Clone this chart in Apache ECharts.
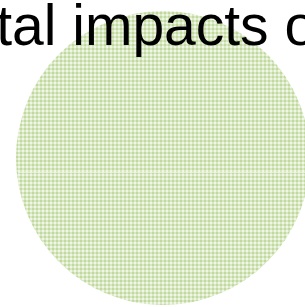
<!DOCTYPE html>
<html>
<head>
<meta charset="utf-8">
<script src="https://cdn.jsdelivr.net/npm/echarts@6/dist/echarts.min.js"></script>
<style>
  html, body { margin: 0; padding: 0; background: #fff; }
  #chart { width: 305px; height: 307px; }
</style>
</head>
<body>
<div id="chart"></div>
<script>
// 数据
const titleText = 'Total impacts of';
const categories = ['Total'];
const values = [100];

// 格子纹理填充 (gingham)
function makePattern() {
  const c = document.createElement('canvas');
  c.width = 4; c.height = 4;
  const ctx = c.getContext('2d');
  for (let y = 0; y < 4; y++) {
    for (let x = 0; x < 4; x++) {
      const lx = x >= 2, ly = y >= 2;
      ctx.fillStyle = (lx && ly) ? '#f0f6e6' : (lx || ly) ? '#d8e8c2' : '#c2d99e';
      ctx.fillRect(x, y, 1, 1);
    }
  }
  return c;
}

const chart = echarts.init(document.getElementById('chart'));
chart.setOption({
  backgroundColor: '#fff',
  animation: false,
  title: {
    text: titleText,
    left: -69,
    top: -4,
    padding: 5,
    textStyle: {
      fontFamily: 'Liberation Sans',
      fontSize: 57,
      fontWeight: 'normal',
      color: '#000'
    }
  },
  // 纹理接缝
  graphic: [{
    type: 'line',
    z: 5,
    silent: true,
    shape: { x1: 18, y1: 172.5, x2: 305, y2: 172.5 },
    style: { stroke: 'rgba(255,255,255,0.55)', lineWidth: 1 }
  }],
  series: [{
    type: 'pie',
    z: 1,
    center: [163, 158],
    radius: 147,
    silent: true,
    label: { show: false },
    labelLine: { show: false },
    itemStyle: { color: { image: makePattern(), repeat: 'repeat' } },
    data: categories.map((n, i) => ({ name: n, value: values[i] }))
  }]
});
</script>
</body>
</html>
